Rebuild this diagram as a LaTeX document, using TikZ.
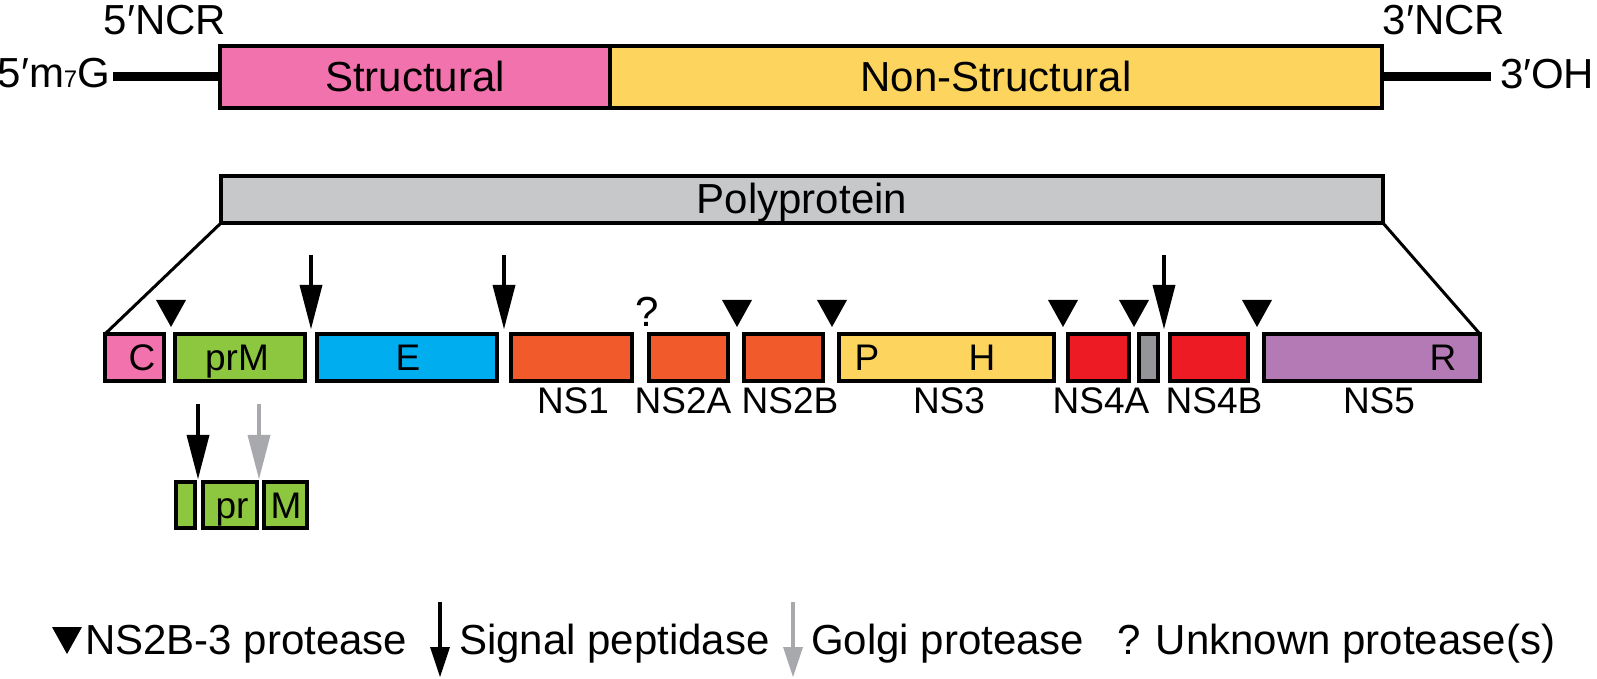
\documentclass[tikz,border=0pt]{standalone}
\usepackage{fontspec}
\setmainfont{Liberation Sans}
\definecolor{cPink}{HTML}{F172AC}
\definecolor{cYellow}{HTML}{FDD55E}
\definecolor{cPoly}{HTML}{C7C8CA}
\definecolor{cGreen}{HTML}{8DC63F}
\definecolor{cBlue}{HTML}{00AEEF}
\definecolor{cOrange}{HTML}{F15A2B}
\definecolor{cRed}{HTML}{ED1C24}
\definecolor{cGrayBox}{HTML}{939598}
\definecolor{cPurple}{HTML}{B37AB5}
\definecolor{cGolgi}{HTML}{A7A9AC}
\newcommand\fTop{\fontsize{21}{25}\selectfont}
\newcommand\fRow{\fontsize{18.5}{22}\selectfont}
\newcommand\fLeg{\fontsize{21}{25}\selectfont}
\newcommand\fSub{\fontsize{12}{14}\selectfont}
% name, x1, x2, y1, y2, fill
\newcommand\seg[6]{\node[segbox, fill=#6, minimum width={(#3-#2)*0.5pt}, minimum height={(#5-#4)*0.5pt}] (#1) at ({(#2+#3)/2},{(#4+#5)/2}) {};}
% triangle mark: x, y of tip
\newcommand\nsmark[2]{\fill ({#1-15},{#2-27}) -- ({#1+15},{#2-27}) -- (#1,#2) -- cycle;}
% arrow: color, x, ytop, ytip, head length, half width
\newcommand\cleave[6]{\draw[#1, line width=2pt] (#2,#3) -- (#2,{#4-#5+2});
  \fill[#1] ({#2-#6},{#4-#5}) -- ({#2+#6},{#4-#5}) -- (#2,#4) -- cycle;}
\begin{document}
\begin{tikzpicture}[x=0.5pt,y=-0.5pt,
  segbox/.style={draw, line width=1.8pt, inner sep=0pt, outer sep=0pt},
  txt/.style={inner sep=0pt, outer sep=0pt},
  ncr/.style={line width=4.5pt},
  zoomline/.style={line width=1.5pt}]
\useasboundingbox (0,0) rectangle (1597,679);

% ---- genome ----
\seg{struct}{220}{610}{46}{108}{cPink}
\seg{nonstruct}{610}{1382}{46}{108}{cYellow}
\node[txt, anchor=base] (tStruct) at (415,92) {\fTop Structural};
\node[txt, anchor=base] (tNon) at (996,92) {\fTop Non-Structural};
\coordinate (capL) at (113,77);
\coordinate (capR) at (1491,77);
\draw[ncr] (capL) -- (struct.west);
\draw[ncr] (nonstruct.east) -- (capR);
\node[txt, anchor=base] (ncr5) at (165,35) {\fTop 5′NCR};
\node[txt, anchor=base] (ncr3) at (1444,35) {\fTop 3′NCR};
\node[txt, anchor=base east] (cap5) at (110,88) {\fTop 5′m{\fSub 7}G};
\node[txt, anchor=base west] (oh3) at (1500,89) {\fTop 3′OH};

% ---- polyprotein ----
\seg{poly}{221}{1383}{176}{223}{cPoly}
\node[txt, anchor=base] (tPoly) at (802,214) {\fTop Polyprotein};

% ---- mature proteins ----
\seg{C}{105}{164}{334}{381}{cPink}
\seg{prM}{175}{305}{334}{381}{cGreen}
\seg{E}{317}{497}{334}{381}{cBlue}
\seg{NSone}{511}{632}{334}{381}{cOrange}
\seg{NStwoA}{649}{728}{334}{381}{cOrange}
\seg{NStwoB}{744}{823}{334}{381}{cOrange}
\seg{NSthree}{839}{1054}{334}{381}{cYellow}
\seg{NSfourA}{1068}{1129}{334}{381}{cRed}
\seg{twoK}{1139}{1158}{334}{381}{cGrayBox}
\seg{NSfourB}{1170}{1248}{334}{381}{cRed}
\seg{NSfive}{1264}{1480}{334}{381}{cPurple}

\draw[zoomline] (poly.south west) -- (C.north west);
\draw[zoomline] (poly.south east) -- (NSfive.north east);

\node[txt, anchor=base] (tC) at (142,371) {\fRow C};
\node[txt, anchor=base] (tprM) at (237,371) {\fRow prM};
\node[txt, anchor=base] (tE) at (408,371) {\fRow E};
\node[txt, anchor=base] (tP) at (867,371) {\fRow P};
\node[txt, anchor=base] (tH) at (982,371) {\fRow H};
\node[txt, anchor=base] (tR) at (1443,371) {\fRow R};

\node[txt, anchor=base] (lNS1) at (573,414) {\fRow NS1};
\node[txt, anchor=base] (lNS2A) at (683,414) {\fRow NS2A};
\node[txt, anchor=base] (lNS2B) at (790,414) {\fRow NS2B};
\node[txt, anchor=base] (lNS3) at (949,414) {\fRow NS3};
\node[txt, anchor=base] (lNS4A) at (1101,414) {\fRow NS4A};
\node[txt, anchor=base] (lNS4B) at (1214,414) {\fRow NS4B};
\node[txt, anchor=base] (lNS5) at (1379,414) {\fRow NS5};

% cleavage marks
\nsmark{171}{327}
\nsmark{737}{327}
\nsmark{832}{327}
\nsmark{1063}{327}
\nsmark{1134}{327}
\nsmark{1257}{327}
\cleave{black}{311}{255}{329}{44}{11.5}
\cleave{black}{504}{255}{329}{44}{11.5}
\cleave{black}{1164}{255}{329}{44}{11.5}
\node[txt, anchor=base] (qmark) at (647,327) {\fTop ?};

% ---- prM processing ----
\cleave{black}{198}{404}{479}{44}{11.5}
\cleave{cGolgi}{259}{404}{479}{44}{11.5}
\seg{anch}{176}{195}{482}{528}{cGreen}
\seg{pr}{203}{257}{482}{528}{cGreen}
\seg{M}{264}{307}{482}{528}{cGreen}
\node[txt, anchor=base] (tpr) at (232,518) {\fRow pr};
\node[txt, anchor=base] (tM) at (286,518) {\fRow M};

% ---- legend ----
\nsmark{67}{654}
\node[txt, anchor=base west] (lgA) at (85,654) {\fLeg NS2B-3 protease};
\cleave{black}{440}{602}{677}{30}{10}
\node[txt, anchor=base west] (lgB) at (459,654) {\fLeg Signal peptidase};
\cleave{cGolgi}{793}{602}{677}{30}{10}
\node[txt, anchor=base west] (lgC) at (811,654) {\fLeg Golgi protease};
\node[txt, anchor=base west] (lgD) at (1117,654) {\fLeg ? Unknown protease(s)};
\end{tikzpicture}
\end{document}
